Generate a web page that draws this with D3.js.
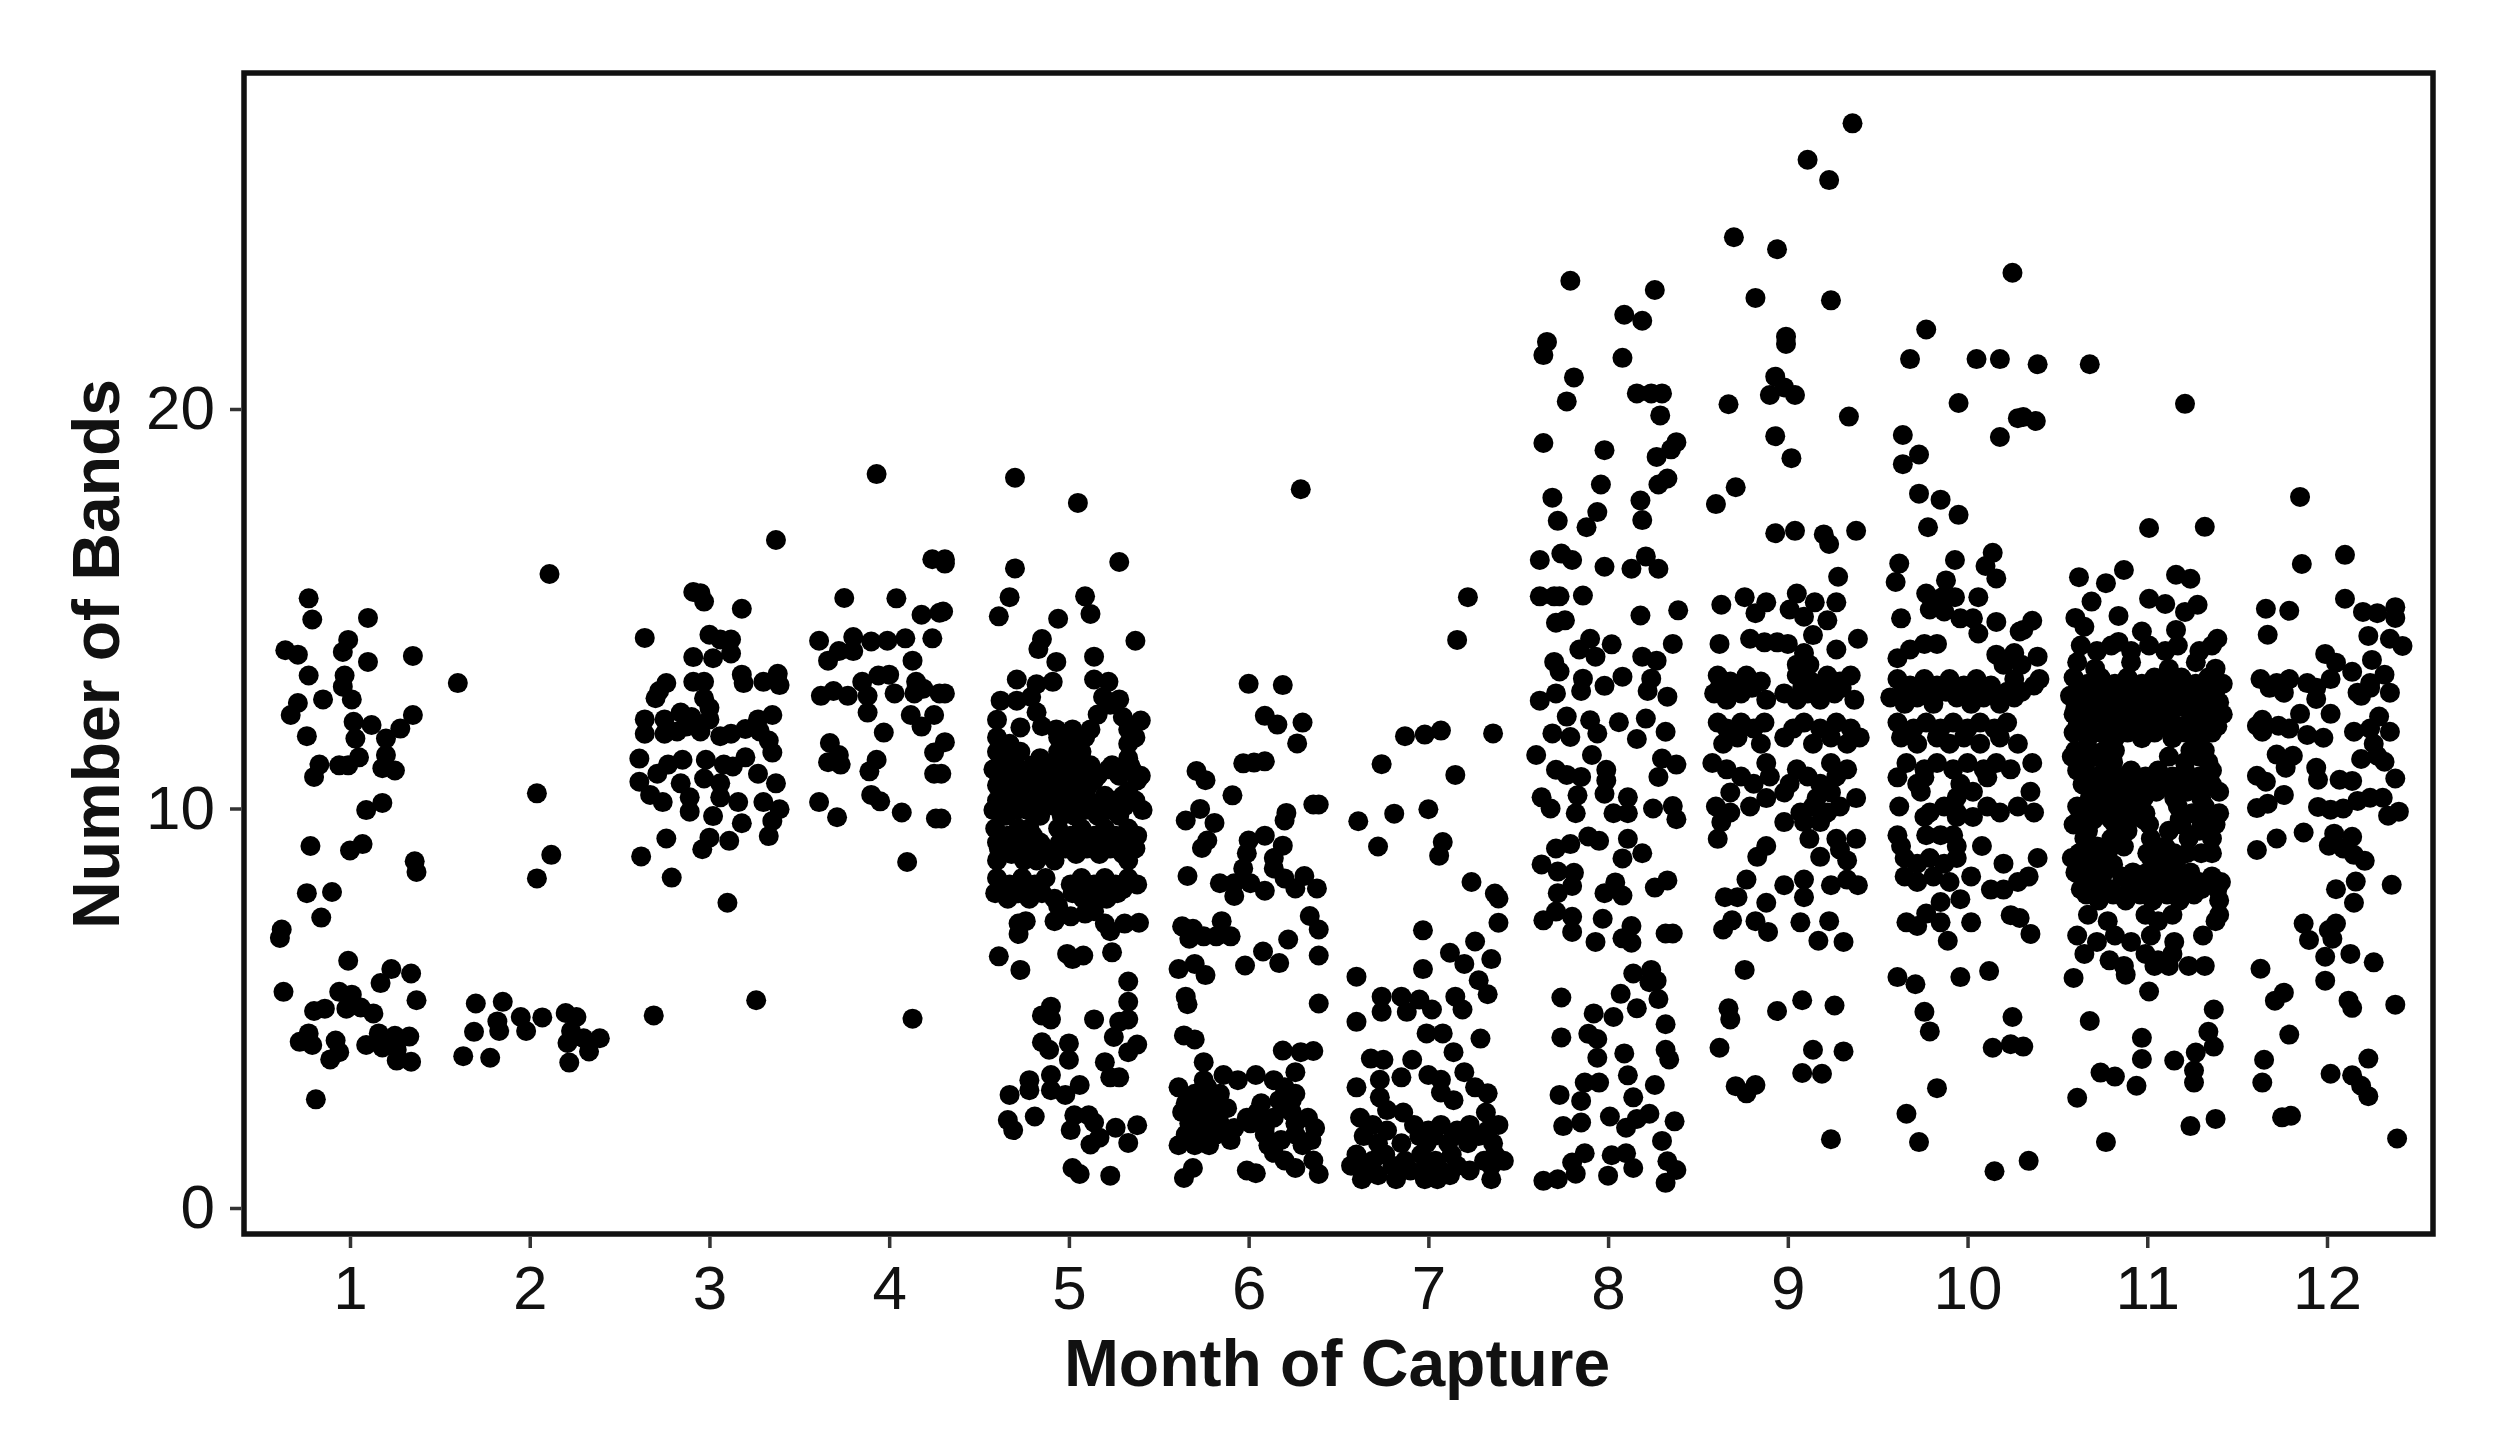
<!DOCTYPE html>
<html>
<head>
<meta charset="utf-8">
<script src="https://cdn.jsdelivr.net/npm/d3@7"></script>
<style>
html, body { margin: 0; padding: 0; background: #fff; }
text { font-family: "Liberation Sans", Arial, sans-serif; }
</style>
</head>
<body>
<div class="central"></div>
<script>
//Points, one list per month. Each row is [bands, x, x, x...]
var month1 = [
	[15.26,.77],[14.73,.79],[14.77,1.10],[14.22,.99],[13.92,.96],[13.96,.64],[13.85,.71],[13.82,1.35],[13.67,1.10],[13.33,.77,.97],
	[13.05,.96],[12.73,1.01,.85],[12.64,.71],[12.34,.67,1.35],[12.17,1.02],[12.09,1.12],[12.0,1.28],[11.75,1.20,1.03],[11.81,.76],
	[11.28,1.05],[11.34,1.20],[11.1,.83],[10.79,.80],[11.08,.94,.99],[11.01,1.18],[10.95,1.25],[10.14,1.18],[9.96,1.09],[9.06,.78],
	[8.95,1.0],[9.11,1.07],[8.68,1.36],[8.41,1.37],[7.88,.76],[7.91,.90],[7.27,.84],[6.97,.62],[6.76,.61],[6.19,.99],[5.98,1.23],
	[5.87,1.34],[5.63,1.17],[5.41,.63,.94],[5.34,1.01],[5.2,1.37],[4.99,.98,.86],[5.02,1.06],[4.87,1.13],[4.93,.80],[4.37,.77,1.16],
	[4.16,.72],[4.08,.79,1.09],[4.19,.92],[3.9,.94],[3.72,.89],[4.31,1.25],[4.29,1.33],[4.02,1.18],[3.96,1.26],[3.69,1.26],[3.66,1.34],[2.72,.81]
];
var month2 = [
	[15.87,2.11],[13.14,1.60],[10.38,2.04],[8.84,2.12],[8.25,2.04],[5.12,1.70],[5.16,1.85],[4.41,1.69],[4.67,1.82],[4.43,1.83,1.98,2.23],
	[4.78,1.95,2.26],[4.77,2.07],[4.88,2.20],[4.13,2.21],[4.25,2.30,2.39],[3.92,2.33],[3.64,2.22],[3.8,1.63],[3.76,1.78]
];
var month3 = [
	[16.72,3.37],[15.42,2.91],[15.39,2.95],[15.18,2.97],[15.0,3.18],[14.27,2.64],[14.35,3.0],[14.23,3.06,3.12],[13.88,3.12],[13.76,3.02],
	[13.79,2.91],[13.35,3.18],[13.14,3.19,2.76],[13.17,3.30,2.91,2.97],[13.37,3.38],[13.09,3.39],[12.94,2.72],[12.76,2.70,2.97],[12.52,3.0],
	[12.23,2.64,2.75,3.0,3.27],[11.87,2.64,2.75,3.12],[12.4,2.84],[12.29,2.90],[11.93,2.82,2.95,3.28],[12.05,2.87],[11.81,3.06],[11.99,3.20],
	[12.34,3.35],[11.7,3.33],[11.4,3.35],[11.25,2.61],[10.67,2.61],[10.34,2.67],[10.16,2.74,3.16,3.30],[10.87,2.71,3.27],[11.1,2.77,3.08],
	[11.22,2.85,2.98],[10.63,2.84,3.06,3.37],[10.28,2.89,3.06],[9.92,2.89],[10.75,2.97],[9.81,3.02],[11.28,3.20],[11.05,3.13],[9.63,3.18],
	[9.98,3.39],[9.69,3.35],[9.31,3.33],[9.19,3.11],[9.27,3.0],[8.98,2.96],[9.25,2.76],[8.8,2.62],[8.27,2.79],[7.64,3.10],[4.82,2.69],[5.2,3.26]
];
var month4 = [
	[18.37,3.93],[16.24,4.24,4.31],[16.13,4.31],[15.27,3.75],[15.26,4.04],[14.85,4.18],[14.9,4.28],[14.93,4.30],[14.2,3.61,3.99],[14.29,3.80],
	[14.18,3.90],[14.26,4.09,4.24],[13.94,3.72,3.80],[13.7,3.66,4.13],[12.82,3.62,3.77,3.88],[12.94,3.69],[13.17,3.85,4.15],[13.33,3.94],
	[13.35,4.0],[12.4,3.88],[12.88,4.03,4.14,4.28,4.31],[13.0,4.19],[12.34,4.12,4.25],[12.05,4.18],[11.9,3.97],[11.64,3.67],[11.34,3.72],
	[11.16,3.66],[11.1,3.73],[11.22,3.93],[10.93,3.89],[11.4,4.25],[10.87,4.25,4.29],[11.66,4.31],[10.34,3.90],[10.18,3.95],[10.16,3.61],
	[9.78,3.71],[9.9,4.07],[9.75,4.26,4.29],[8.66,4.10],[4.74,4.13]
];
var month5 = [
	[18.28,4.70],[17.65,5.05],[16.17,5.28],[16.01,4.70],[15.29,4.67],[15.31,5.09],[14.81,4.61],[14.87,5.12],[14.75,4.94],[14.2,5.37],[14.24,4.85],
	[13.99,4.83],[13.67,4.93],[13.8,5.14],[13.23,4.71,5.14],[13.17,5.22,4.91],[13.11,4.82],[12.7,4.62,4.71],[12.79,5.19,4.79],[12.73,5.28],
	[12.6,5.23],[12.41,4.82],[12.22,4.60],[12.03,4.73],[12.06,4.85],[12.2,5.40],[12.35,5.16],[12.29,5.30],
	[11.98,4.93,5.02,5.12,5.33],
	[11.78,4.60,4.94,5.09,5.37],[11.62,4.67,5.02,5.33],
	[11.42,4.60,4.73,4.94,5.07],[11.26,4.67,4.84,5.01,5.33],
	[11.08,4.61,4.70,4.80,4.88,4.97,5.06,5.12,5.24,5.34],
	[10.98,4.58,4.71,4.84,4.96,5.09,5.22,5.35],[10.82,4.65,4.77,4.90,5.03,5.16,5.28,5.40],
	[10.7,4.62,4.74,4.83,4.93,5.02,5.14,5.38],
	[10.58,4.60,4.73,4.86,4.99,5.11],[10.44,4.67,4.79,4.92,5.05,5.33],
	[10.32,4.64,4.76,4.89,5.0,5.08,5.20,5.30],
	[10.2,4.60,4.73,4.86,4.99,5.11,5.24,5.37],[10.06,4.67,4.79,4.92,5.05,5.18,5.31],
	[9.96,4.58,4.71,4.77,4.96,5.09,5.22,5.41],[9.82,4.65,4.84,4.96,5.03,5.16,5.28],
	[9.5,4.59,4.72,4.78,4.94,5.07,5.20,5.33],[9.32,4.66,4.80,5.01,5.14,5.26,5.38],
	[9.15,4.60,4.70,4.76,4.84,4.95,5.05,5.12,5.22,5.33],
	[9.0,4.61,4.74,4.87,4.98,5.10,5.23,5.37],[8.86,4.68,4.81,5.04,5.17,5.30],
	[8.7,4.60,4.75,4.82,4.92,5.33],
	[8.26,4.60,4.74,4.87,5.07,5.20,5.33],[8.1,4.67,4.81,5.01,5.14,5.26,5.38],
	[7.98,4.62,4.74,4.84,5.05,5.14,5.24,5.30],
	[7.88,4.59,4.72,4.85,5.02,5.15,5.27],[7.74,4.66,4.78,4.92,5.08,5.21],
	[6.3,4.61],[5.96,4.73],[6.36,4.99],[6.23,5.02],[6.32,5.08],[6.4,5.24],[7.12,4.72,5.20,5.31],[7.18,4.76,4.92],[6.86,4.72],[7.3,5.01],[7.37,5.09],
	[6.93,5.23],[7.14,5.39],[7.56,4.94],[7.43,5.14],[5.67,5.33],[5.16,5.33],[4.72,5.33,5.14,4.90],[4.66,5.28],[5.04,4.90],[4.82,4.85],[4.28,5.25],
	[4.15,4.85],[3.96,4.89],[4.12,5.0],[3.71,5.0],[4.09,5.38],[3.9,5.33],[3.65,5.20],[3.27,5.23,5.28],[3.2,4.78],[2.95,4.78,4.90],[3.33,4.90],[2.83,4.98,4.67],
	[3.08,5.06],[2.2,4.66],[1.95,4.69,5.01],[2.29,4.81],[2.32,5.03,5.11],[2.14,5.14],[1.76,5.17],[1.59,5.12],[2.01,5.26],[1.63,5.33],[2.07,5.38],
	[1.0,5.02],[.85,5.06],[.81,5.23]
];
var month6 = [
	[17.99,6.29],[13.12,6.0],[13.09,6.19],[12.32,6.09],[12.1,6.16],[12.15,6.30],[11.63,6.27],[11.13,5.97],[11.15,6.03],[11.18,6.09],[10.94,5.71],
	[10.71,5.76],[10.33,5.91],[10.1,6.36,6.39],[9.89,6.21],[9.7,6.20,5.65],[9.99,5.73],[9.64,5.81],[9.2,5.77,6.0],[9.01,5.74],[9.32,6.09],[9.07,6.19],
	[8.88,5.99],[8.76,6.14],[8.5,5.97,6.14],[8.31,5.66,6.31],[8.13,5.84,5.92,6.01],[7.94,6.09],[7.81,5.92],[8.25,6.20],[8.0,6.26,6.38],[7.31,6.34],
	[6.97,6.39],[7.05,5.63],[6.99,5.69],[6.74,5.67],[6.8,5.75,5.82,5.90],[7.18,5.85],[6.72,6.22],[6.42,6.08],[6.07,5.98],[6.13,6.17],[6.32,6.39],
	[5.98,5.61],[6.11,5.70],[5.83,5.76],[5.29,5.65],[5.1,5.66],[5.12,6.39],[4.32,5.64],[4.22,5.70],[3.94,6.19],[3.9,6.29],[3.93,6.36],[3.65,5.75],[3.4,6.26],
	[3.33,5.86,6.04],[3.2,5.75,5.94,6.14],
	[3.02,5.61,5.77,6.20],[2.86,5.70,5.84,6.26],
	[2.7,5.68,5.78,6.17,6.24],
	[2.62,5.65,5.82,6.07],[2.5,5.73,5.88,6.20],
	[2.4,5.63,5.80,6.05,6.24],[2.26,5.71,5.99,6.14,6.33],
	[2.12,5.67,5.84,6.01,6.26],[2.0,5.75,5.92,6.09,6.37],
	[1.84,5.65,5.82,6.09,6.26],[1.7,5.73,5.90,6.18,6.35],
	[1.57,5.61,5.70,5.78,6.11,6.30],
	[1.38,6.14],[1.19,6.20],[1.0,6.26,5.69],[1.19,6.36],[.85,6.39],[.75,5.64],[.94,5.99],[.87,6.04]
];
var month7 = [
	[15.29,7.22],[14.22,7.16],[11.81,6.87],[11.85,6.98],[11.95,7.07],[11.88,7.36],[11.11,6.74],[10.84,7.15],[9.68,6.61],[9.87,6.81],[9.98,7.0],[9.05,6.72],
	[9.16,7.08],[8.82,7.06],[8.16,7.24],[7.87,7.37],[7.75,7.39],[7.14,7.39],[6.95,6.97],[6.67,7.26],[6.39,7.12],[6.11,7.20],[6.23,7.35],[5.98,6.97],
	[5.79,6.60],[5.7,7.28],[5.35,7.33],[5.29,6.74,6.85,7.15],[5.22,6.95],[4.97,7.02,7.19],[4.91,6.74,6.88],[4.66,6.60],[4.37,6.99,7.08],[4.24,7.29],
	[3.74,6.68],[3.71,6.75,6.91],[3.9,7.14],[3.02,6.60,7.26],[3.21,6.73,7.07],[3.27,6.85],[3.33,7.0],[3.4,7.20],[2.87,7.33],[2.89,7.07],[2.7,7.14],
	[2.26,6.62],[2.77,6.73],[2.45,6.77],[2.39,6.86,7.32],
	[2.08,6.69,6.92,7.07,7.23,7.39],[1.94,6.77,7.0,7.16,7.33],
	[1.8,6.64,6.95,7.03,7.14,7.28],
	[1.62,6.72,6.85,6.99,7.11,7.22,7.36],
	[1.34,6.60,6.76,6.96,7.13,7.37],[1.18,6.69,6.87,7.04,7.31,7.42],
	[1.06,6.57,6.80,6.99,7.16,7.35],[.94,6.64,6.90,7.07,7.23],
	[.72,6.63,6.82,6.98,7.05,7.35],[.82,6.72,7.12]
];
var month8 = [
	[23.21,7.79],[22.98,8.26],[22.36,8.09],[22.21,8.19],[21.68,7.66],[21.35,7.64],[21.28,8.08],[20.79,7.81],[20.19,7.77],[20.39,8.16,8.24,8.30],[19.84,8.29],
	[19.15,7.64],[18.97,7.98],[19.17,8.38],[18.99,8.35],[18.8,8.27],[18.11,7.96,8.28],[18.26,8.33],[17.78,7.69],[17.71,8.18],[17.42,7.94],[17.04,7.88],
	[17.2,7.72],[17.22,8.19],[16.22,7.62,7.80],[16.38,7.74],[16.05,7.98],[16.0,8.13,8.28],[16.31,8.21],[15.31,7.62,7.70,7.73],[15.33,7.86],[14.83,8.18],
	[14.96,8.39],[14.65,7.71],[14.71,7.76],[14.25,7.90],[13.98,7.84],[14.11,8.02],[14.12,8.36],[13.67,7.70],[13.43,7.73],[13.8,7.93,8.19],[13.7,8.27],
	[13.25,7.86,8.24],[13.07,7.98],[13.3,8.08],[12.7,7.62],[12.88,7.71],[12.94,7.85,8.22],[12.8,8.33],[12.3,7.77],[12.21,7.90],[12.16,8.06],[12.25,8.21],
	[11.88,7.69,7.94],[11.79,7.79],[11.74,8.16],[11.92,8.32],[11.34,7.60,7.91],[11.25,8.30],[11.1,8.38],[10.97,7.71,7.99],[10.84,7.77],[10.79,7.85,8.28],
	[10.7,7.99],[10.28,7.63,8.11],[10.0,7.68,8.25],[10.33,7.83],[10.37,7.98],[9.88,7.82,8.03,8.11],[10.06,8.36],[9.73,8.38],[9.3,7.89],[9.19,7.95],[9.24,8.11],
	[9.0,7.71],[9.11,7.79],[8.75,8.08],[8.88,8.19],[8.6,7.63],[8.42,7.72],[8.39,7.81],[8.06,7.80],[7.88,7.72,7.98],[8.15,8.04],[7.82,8.08],[8.2,8.33],[8.02,8.26],
	[7.2,7.64],[7.42,7.71],[7.29,7.80],[6.91,7.80],[7.24,7.97],[7.06,8.13],[6.75,8.08],[6.64,8.13],[6.66,7.93],[6.87,8.36,8.32],[5.87,8.14],[5.96,8.24],
	[5.69,8.27],[5.27,7.74],[5.36,8.07],[4.78,8.03],[5.0,8.16],[5.23,8.28],[5.65,8.23],[4.87,7.92],[4.36,7.89],[4.27,7.74],[4.23,7.94],[4.6,8.32],[3.96,8.32],
	[3.72,8.34],[3.76,7.94],[3.87,8.09],[3.32,8.11],[3.14,7.87,7.95],[2.83,7.73],[3.08,8.26],[2.77,8.14],[2.68,7.85],[2.05,7.75],[2.14,7.85],[2.29,8.01],
	[2.01,8.10],[2.23,8.16],[2.36,8.23],[2.17,8.37],[1.68,8.30],[1.37,7.87,8.10],[1.14,7.80],[.86,7.82],[1.32,8.02],[1.0,8.14],[.81,8.0],[1.17,8.33],[.95,8.38],
	[.63,8.32],[.68,7.64],[.72,7.72]
];
var month9 = [
	[27.15,9.36],[26.24,9.11],[25.73,9.23],[24.3,8.70],[24.0,8.94],[22.78,8.82],[22.72,9.24],[21.81,8.99],[21.63,8.99],[19.81,9.34],[20.81,8.93],[20.35,8.90,9.04],
	[20.54,8.98],[20.12,8.67],[19.32,8.93],[18.77,9.02],[18.04,8.71],[17.62,8.60],[16.89,8.93],[16.95,9.04,9.38],[16.86,9.20],[16.62,9.23],[15.8,9.28],
	[15.1,8.63],[15.29,8.76],[14.89,8.82],[15.16,8.88,9.15,9.27],[15.38,9.05],[14.8,9.09],[14.98,9.01],[14.71,9.22],[14.12,8.62,9.0],[14.25,8.79,9.39],
	[14.16,8.87,8.94],[13.98,9.27],[14.34,9.14],[13.89,9.09],[13.6,9.05,9.12],
	[13.33,8.61,8.77,9.05,9.22,9.35],[13.18,8.68,8.85,9.13,9.29],
	[13.02,8.62,8.72,8.80,9.08,9.2,9.3],
	[12.88,8.59,8.74,8.98,9.11,9.26],[12.72,8.66,8.88,9.05,9.18,9.37],
	[12.15,8.61,8.74,8.87,9.09,9.27],[12.0,8.66,8.81,9.03,9.18,9.35],
	[11.78,8.72,8.98,9.24,9.40],[11.62,8.64,8.85,9.14,9.33],
	[11.14,8.58,8.88,9.24],[10.98,8.66,9.05,9.33],
	[10.8,8.74,8.90,9.11,9.27],[10.62,8.81,9.01,9.18],
	[10.4,8.68,8.98,9.24],[10.26,8.88,9.16,9.38],
	[10.05,8.60,8.79,9.14,9.29],[9.9,8.68,9.07,9.22],
	[9.66,8.63,8.98,9.09,9.18],
	[9.24,8.61,9.12,9.38,9.27],
	[9.06,8.88],[8.79,8.83,9.18],[8.97,9.29],[8.7,9.33],
	[8.22,8.77,9.09,9.33],[8.08,8.98,9.24,9.39],
	[7.78,8.65,8.72,9.09],[7.64,8.88],[7.2,8.69],[6.97,8.64],[7.18,8.82,9.23],[6.91,8.89],[7.15,9.07],[6.69,9.17],[6.66,9.31],[5.96,8.76],[5.0,8.67],[4.72,8.68],
	[4.93,8.94],[5.2,9.08],[5.07,9.26],[4.01,8.62],[3.96,9.14],[3.92,9.31],[3.38,9.08],[3.36,9.19],[3.05,8.71],[2.87,8.77],[3.08,8.82],[1.72,9.24]
];
var month10 = [
	[23.41,10.25],[21.99,9.77],[21.25,9.68,10.05,10.18],[21.12,10.39],[20.15,9.95],[19.77,10.28],[19.7,10.38],[19.8,10.31],[19.3,10.18],[19.35,9.64],[18.86,9.73],[18.62,9.64],
	[17.88,9.73],[17.73,9.85],[17.35,9.95],[17.04,9.78],[16.13,9.62],[15.67,9.60],[16.22,9.93],[15.71,9.88],[16.4,10.14],[15.76,10.16],[16.07,10.10],
	[15.38,9.77],[15.29,9.93,10.06,9.86],[14.98,9.79],[14.93,9.87],[14.76,9.63,9.96,10.03],[14.67,10.16],[14.7,10.36],[14.47,10.31],[14.38,10.06],[13.76,9.61],
	[13.98,9.68],[14.12,9.76,9.83],[13.85,10.16],[13.89,10.26],[14.43,10.29],[13.8,10.39],[13.6,10.2,10.3],
	[13.24,9.61,9.76,9.90,10.05,10.26,10.40],[13.08,9.68,9.83,9.98,10.13,10.37],
	[12.92,9.64,9.72,9.80,9.88,9.96,10.04,10.12,10.22,10.3],
	[12.78,9.57,9.72,9.94,10.09,10.26],[12.62,9.65,9.81,10.02,10.18],
	[12.15,9.61,9.77,9.92,10.07,10.22],[12.0,9.70,9.85,10.0,10.15],
	[11.78,9.63,9.83,9.98,10.18],[11.62,9.72,9.90,10.07,10.28],
	[11.14,9.66,9.83,10.0,10.16,10.36],[10.98,9.76,9.92,10.09,10.24],
	[10.78,9.61,9.76,10.11],[10.62,9.72,9.96],
	[10.42,9.74,10.03,10.35],[10.28,9.94],
	[10.05,9.62,9.87,10.11,10.28],[9.9,9.79,9.94,10.18,10.37],
	[9.79,9.76,9.94,10.03],
	[9.33,9.61,9.77,9.85,9.92],
	[9.06,9.63,10.08,9.94],
	[8.76,9.65,9.79,9.94,10.39],[8.62,9.72,9.87,10.20],
	[8.3,9.65,9.81,10.02,10.34],[8.16,9.72,9.90,10.28],
	[7.73,9.96],[7.66,9.85],[7.37,9.77],[7.97,10.13,10.20],[7.33,10.24],[7.26,10.29],[7.15,9.66,9.85,10.02],[7.06,9.72],[6.86,10.35],[6.69,9.89],
	[5.78,9.61,9.96],[5.6,9.71],[5.93,10.12],[4.91,9.76],[4.42,9.79],[4.78,10.25],[4.04,10.31],[4.01,10.14],[4.1,10.24],[3.0,9.83],[2.36,9.66],[1.65,9.73],[1.18,10.34],[.92,10.15]
];
var month11 = [
	[21.12,10.68],[20.13,11.21],[17.02,11.01],[17.05,11.32],[15.79,10.62],[15.64,10.77],[15.97,10.87],[15.85,11.16],[15.75,11.24],[15.18,10.69],[14.82,10.84],
	[15.25,11.01],[15.12,11.10],[15.1,11.28],[14.92,11.21],[14.77,10.60],[14.55,10.65],[14.25,11.39],[14.43,10.97],[14.17,10.84],[14.47,11.16],
	[14.08,10.63,10.80,11.01,11.17,11.36],[13.94,10.72,10.91,11.10,11.29],
	[13.66,10.61,10.91,11.27],[13.5,10.71,11.12,11.38],
	[13.28,10.59,10.74,10.89,11.04,11.19,11.34],[13.12,10.67,10.82,10.97,11.12,11.27,11.42],
	[12.96,10.61,10.70,10.78,10.86,10.94,11.02,11.08,11.16,11.24,11.31,11.38],
	[12.82,10.57,10.72,10.87,11.02,11.17,11.32],[12.66,10.65,10.80,10.95,11.10,11.25,11.40],
	[12.5,10.60,10.68,10.76,10.85,10.93,11.0,11.07,11.15,11.22,11.29,11.37],
	[12.36,10.59,10.74,10.89,11.04,11.25,11.42],[12.22,10.67,10.82,10.97,11.12,11.32],
	[12.06,10.61,10.70,10.78,10.86,10.94,11.02,11.10,11.18,11.26,11.33,11.39],
	[11.9,10.59,10.74,10.89,11.04,11.21,11.36],[11.76,10.67,10.82,10.97,11.14,11.29],
	[11.45,10.6,10.68,10.76,10.82,11.24,11.32],
	[11.3,10.58,10.73,11.12,11.29],[11.16,10.66,10.81,11.21,11.34],
	[10.95,10.61,10.76,10.91,11.06,11.21,11.36],[10.8,10.69,10.84,10.99,11.14,11.29],
	[10.6,10.64,10.72,10.80,10.88,10.96,11.04,11.12,11.2,11.28,11.36],
	[10.42,10.75,10.90,11.05,11.22,11.40],[10.26,10.68,10.83,10.98,11.15,11.30],
	[10.05,10.61,10.76,10.91,11.17,11.32],[9.88,10.69,10.84,10.99,11.25,11.40],
	[9.72,10.62,10.70,10.80,10.9,10.98,11.18,11.3],
	[9.6,10.59,10.82,11.01,11.19,11.38],[9.44,10.67,10.89,11.12,11.29],
	[9.25,10.65,10.80,11.02,11.23,11.36],[9.05,10.72,10.87,11.10],
	[8.88,10.62,10.70,10.78,11.0,11.08,11.15,11.22,11.3,11.36],
	[8.76,10.58,10.73,11.02,11.17],[8.6,10.66,10.81,11.10],
	[8.4,10.6,10.68,10.76,10.92,11.0,11.08,11.16,11.24],
	[8.3,10.64,10.86,11.02,11.19,11.36],[8.16,10.71,10.93,11.12,11.29,11.41],
	[7.98,10.63,10.72,10.8,10.9,10.98,11.06,11.14,11.22,11.3,11.39],
	[7.85,10.66,10.81,10.96,11.11,11.26],[7.7,10.73,10.88,11.03,11.18,11.40],
	[7.34,10.67,10.99,11.14,11.40],[7.18,10.78,11.06,11.38],
	[6.82,10.61,10.82,11.02,11.31],[6.66,10.72,10.91,11.15],
	[6.36,10.65,10.99,11.14],[6.2,10.79,11.06],
	[6.06,10.87,11.04,11.12,11.23,11.32],
	[5.76,10.59],[5.84,10.88],[5.42,11.01],[4.97,11.37],[4.68,10.68],[4.26,10.97],[4.41,11.34],[3.73,10.97],[3.69,11.15],[3.89,11.27],[4.04,11.37],[3.39,10.74],[3.29,10.82],[3.06,10.94],
	[3.44,11.26],[3.14,11.26],[2.76,10.61],[1.65,10.77],[2.05,11.24],[2.23,11.38]
];
var month12 = [
	[17.8,11.85],[16.12,11.86],[16.35,12.10],[15.25,12.10],[15.0,11.66],[14.95,11.79],[14.92,12.20],[14.89,12.28],[15.04,12.38],[14.77,12.38],[14.35,11.67],[14.32,12.23],
	[14.25,12.35],[14.07,12.42],[13.87,11.99],[13.65,12.05],[13.72,12.25],[13.42,12.14],[13.35,12.32],
	[13.24,11.63,11.79,12.02],[13.14,11.72,11.89,12.24],
	[13.02,11.68,11.94,12.24],[12.9,11.76,12.17,12.35],
	[12.37,11.85,12.02],[12.74,11.94],[12.82,12.19],[12.07,11.61,11.73],[12.22,11.64],[11.92,11.64,12.15,12.35],[12.0,11.79,12.24],[11.84,11.89],[11.77,11.98],[12.3,12.29],
	[11.62,12.26],[11.32,12.28,11.81],[11.35,11.72],[11.02,11.77,11.94],[11.24,12.19],[11.17,12.32],[10.82,11.61],[10.67,11.66],[10.72,11.95,12.07],[10.69,12.14],[10.75,12.38],
	[10.34,11.76],[10.01,11.61],[10.12,11.67],[10.04,11.95],[9.97,12.02],[10.0,12.09],[10.19,12.17],[10.27,12.24,12.31],[9.82,12.34],[9.92,12.40],[8.96,11.61],[9.25,11.72],
	[9.4,11.87],[9.37,12.04],[9.29,12.14],[9.07,12.01],[9.0,12.09],[8.84,12.15],[8.69,12.21],[8.09,12.36],[8.17,12.16],[7.98,12.05],[7.64,12.15],[7.12,11.87,12.05],[6.96,12.01],
	[6.71,11.90],[6.74,12.03],[6.29,11.99],[6.36,12.13],[6.15,12.26],[5.99,11.63],[5.69,11.99],[5.39,11.76],[5.19,11.71,12.12],[5.01,12.14],[5.09,12.38],[4.34,11.79],[3.71,11.65],
	[3.74,12.23],[3.14,11.64],[3.36,12.02],[3.32,12.14],[3.06,12.19],[2.8,12.23],[2.27,11.75],[2.31,11.80],[1.74,12.39]
];

var allMonths = [month1, month2, month3, month4, month5, month6, month7, month8, month9, month10, month11, month12];
var monthTicks = [1,2,3,4,5,6,7,8,9,10,11,12];
var bandTicks = [0,10,20];

var width = 2494,
	height = 1444;

//Scales, pinned on the tick marks of the reference
var x = d3.scaleLinear().domain([1, 12]).range([350, 2327]);
var y = d3.scaleLinear().domain([0, 20]).range([1208, 409]);

var svg = d3.select(".central")
			.append("svg")
			.attr("width", width)
			.attr("height", height)
			.style("display", "block");

//Flatten the rows into points
var points = [];
allMonths.forEach(function(rows){
	rows.forEach(function(row){
		for(var i = 1; i < row.length; i++){
			points.push({x: row[i], y: row[0]});
		}
	});
});

svg.selectAll(".dot")
	.data(points)
	.enter()
	.append("circle")
	.attr("class", "dot")
	.attr("cx", function(d){ return x(d.x); })
	.attr("cy", function(d){ return y(d.y); })
	.attr("r", 10)
	.style("fill", "#000");

//Panel border
svg.append("rect")
	.attr("x", 244)
	.attr("y", 73)
	.attr("width", 2189)
	.attr("height", 1161)
	.style("fill", "none")
	.style("stroke", "#111")
	.style("stroke-width", 5.5);

var xAxis = d3.axisBottom(x).tickValues(monthTicks).tickSize(11).tickPadding(17).tickFormat(d3.format("d"));
var yAxis = d3.axisLeft(y).tickValues(bandTicks).tickSize(11).tickPadding(15).tickFormat(d3.format("d"));

var gx = svg.append("g").attr("transform", "translate(0,1237)").call(xAxis);
var gy = svg.append("g").attr("transform", "translate(241,0)").call(yAxis);

gx.select(".domain").remove();
gy.select(".domain").remove();

svg.selectAll(".tick line")
	.style("stroke", "#333")
	.style("stroke-width", 3.5);
svg.selectAll(".tick text")
	.style("font-size", "62px")
	.style("fill", "#111");

svg.append("text")
	.attr("x", 1337)
	.attr("y", 1386)
	.attr("text-anchor", "middle")
	.style("font-size", "66px")
	.style("font-weight", "bold")
	.style("fill", "#111")
	.text("Month of Capture");

svg.append("text")
	.attr("transform", "translate(119,654) rotate(-90)")
	.attr("text-anchor", "middle")
	.style("font-size", "66px")
	.style("font-weight", "bold")
	.style("fill", "#111")
	.text("Number of Bands");
</script>
</body>
</html>
